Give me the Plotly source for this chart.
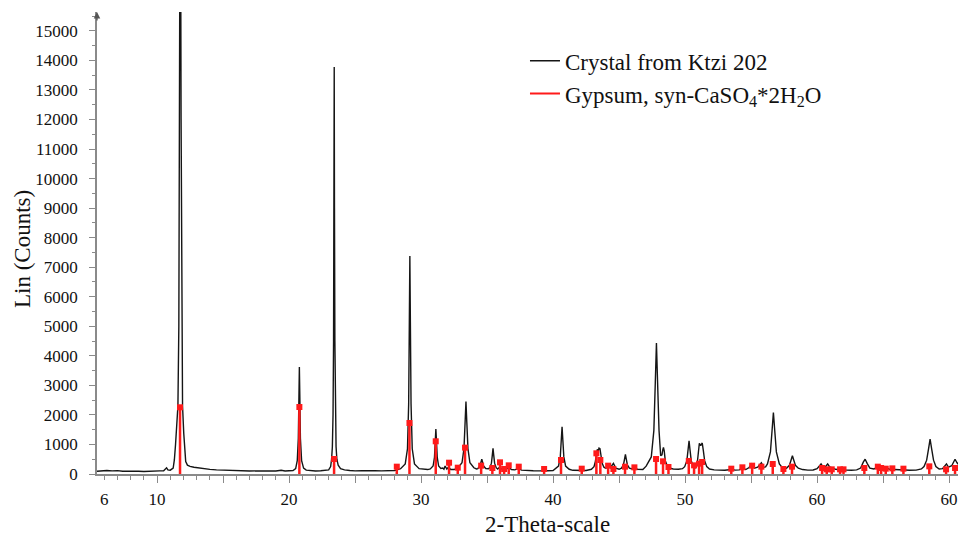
import plotly.graph_objects as go

crystal_scan = [
    (5.45, 95), (5.8, 110), (6.2, 120), (6.6, 105), (7.0, 115), (7.4, 95), (7.8, 100), (8.2, 90),
    (8.6, 95), (9.0, 85), (9.4, 100), (9.8, 90), (10.2, 105), (10.5, 110), (10.62, 150), (10.72, 210),
    (10.82, 140), (11.0, 130),
    (11.22, 200), (11.31, 475), (11.40, 1000), (11.47, 1600), (11.58, 2300), (11.65, 5000), (11.70, 12000),
    (11.76, 23000), (11.82, 12000), (11.88, 5000), (11.93, 2300), (12.02, 1390), (12.10, 800), (12.17, 420),
    (12.3, 300), (12.5, 260), (12.8, 230), (13.2, 200), (13.6, 175), (14.0, 155), (14.5, 140), (15.0, 130),
    (15.5, 120), (16.0, 115),
    (16.5, 110), (17.0, 100), (17.5, 105), (18.0, 95), (18.5, 110), (19.0, 100), (19.4, 125), (19.7, 100),
    (20.0, 110), (20.3, 115),
    (20.5, 180), (20.62, 450), (20.70, 1200), (20.74, 2500), (20.78, 3620), (20.82, 2500), (20.86, 1200),
    (20.95, 450), (21.1, 200), (21.3, 130),
    (21.6, 110), (22.0, 100), (22.4, 110), (22.7, 115), (23.0, 140),
    (23.15, 250), (23.22, 500), (23.28, 925), (23.33, 2000), (23.37, 4500), (23.40, 9000), (23.42, 13780),
    (23.44, 9000), (23.47, 4500), (23.51, 2000), (23.56, 925), (23.62, 500), (23.72, 300), (23.9, 180),
    (24.2, 140), (24.6, 120),
    (25.0, 105), (25.5, 115), (26.0, 100), (26.5, 110), (27.0, 105), (27.5, 115), (28.0, 120), (28.45, 180),
    (28.8, 340), (28.97, 855), (29.06, 2380), (29.11, 5130), (29.15, 7380), (29.19, 5130), (29.24, 2380),
    (29.33, 855), (29.5, 340), (29.85, 180),
    (30.2, 150), (30.5, 150), (30.7, 170), (30.91, 270), (31.015, 560), (31.07, 1090), (31.12, 1520),
    (31.17, 1090), (31.225, 560), (31.33, 270), (31.5, 190),
    (31.64, 200), (31.73, 160), (31.82, 270), (31.95, 170), (32.07, 230), (32.25, 150), (32.5, 150), (32.8, 215),
    (33.1, 380), (33.25, 860), (33.334, 1740), (33.40, 2450), (33.466, 1740), (33.55, 860), (33.70, 380),
    (34.0, 210), (34.2, 170),
    (34.3, 185), (34.45, 260), (34.534, 390), (34.6, 500), (34.666, 390), (34.75, 260), (34.9, 185), (35.1, 180),
    (35.21, 213), (35.33, 366), (35.397, 640), (35.45, 870), (35.503, 640), (35.57, 366), (35.69, 213), (35.8, 170),
    (35.95, 230), (36.1, 170), (36.3, 190), (36.45, 160), (36.65, 220), (36.85, 150), (37.1, 140), (37.4, 190),
    (37.6, 130), (38.0, 115), (38.5, 110), (39.0, 105), (39.3, 120), (39.6, 110), (40.0, 115),
    (40.14, 160), (40.41, 268), (40.545, 579), (40.62, 1141), (40.68, 1600), (40.74, 1141), (40.815, 579),
    (40.95, 268), (41.22, 160), (41.5, 125), (42.0, 115), (42.2, 130), (42.5, 120), (42.9, 160),
    (43.1, 250), (43.2, 420), (43.28, 700), (43.35, 830), (43.42, 780), (43.48, 880), (43.55, 860), (43.62, 640),
    (43.72, 360), (43.85, 230), (44.0, 190), (44.2, 300), (44.35, 220), (44.57, 360), (44.75, 200), (45.0, 160),
    (45.18, 200), (45.33, 308), (45.414, 502), (45.48, 660), (45.546, 502), (45.63, 308), (45.78, 200),
    (46.0, 170), (46.2, 190), (46.4, 160), (46.8, 150),
    (47.05, 266), (47.44, 578), (47.635, 1477), (47.744, 3103), (47.83, 4430), (47.916, 3103), (48.025, 1477),
    (48.15, 620), (48.25, 650), (48.31, 820), (48.36, 900), (48.42, 780), (48.5, 450), (48.65, 280),
    (48.85, 200), (49.1, 170), (49.5, 160), (49.8, 180),
    (49.97, 247), (50.135, 451), (50.227, 819), (50.30, 1120), (50.373, 819), (50.465, 451), (50.63, 247),
    (50.8, 210), (50.92, 360), (51.0, 650), (51.08, 1040), (51.18, 960), (51.30, 1050), (51.38, 800),
    (51.48, 450), (51.64, 250), (51.85, 170), (52.2, 140), (52.6, 130), (53.0, 125), (53.5, 150), (53.8, 130),
    (54.1, 140), (54.35, 200), (54.6, 150), (54.85, 220), (55.05, 340), (55.25, 200), (55.5, 230), (55.78, 380),
    (55.95, 230), (56.1, 240),
    (56.24, 343), (56.465, 748), (56.59, 1482), (56.69, 2080), (56.79, 1482), (56.915, 748), (57.14, 343),
    (57.4, 200), (57.68, 197),
    (57.905, 296), (58.03, 474), (58.13, 620), (58.23, 474), (58.355, 296), (58.58, 197), (58.9, 150),
    (59.3, 130), (59.7, 135), (60.0, 180), (60.15, 260), (60.3, 340), (60.45, 240), (60.6, 230), (60.8, 340),
    (60.95, 240), (61.2, 200), (61.4, 160), (61.8, 140), (62.2, 130), (62.6, 125), (63.0, 140), (63.3, 200),
    (63.5, 400), (63.64, 500), (63.8, 350), (64.0, 200), (64.3, 170), (64.55, 230), (64.7, 250), (64.9, 200),
    (65.2, 220), (65.5, 160), (66.0, 140), (66.5, 130), (67.0, 125), (67.5, 130), (67.9, 170),
    (68.1, 253), (68.3, 469), (68.445, 861), (68.56, 1180), (68.675, 861), (68.82, 469), (69.0, 253),
    (69.25, 170), (69.5, 180), (69.65, 260), (69.8, 340), (69.95, 230), (70.2, 280), (70.45, 500),
    (70.6, 380), (70.8, 280), (71.0, 250), (71.3, 200),
]
scan_2theta = [p[0] for p in crystal_scan]
scan_counts = [p[1] for p in crystal_scan]

# Gypsum reference lines (2-theta, counts)
gypsum_2theta = [11.74, 20.78, 23.41, 28.16, 29.12, 31.11, 32.12, 32.78, 33.33, 34.55, 35.40, 35.98,
                 36.29, 36.64, 37.40, 39.32, 40.60, 42.17, 43.28, 43.58, 44.17, 44.57, 45.45, 46.16,
                 47.80, 48.33, 48.74, 50.28, 50.68, 51.06, 51.29, 53.50, 54.34, 55.08, 55.78, 56.64,
                 57.45, 58.10, 60.38, 60.73, 61.11, 61.74, 62.00, 63.58, 64.60, 64.85, 65.20, 65.70,
                 66.54, 68.50, 69.77, 70.45, 70.88]
gypsum_counts = [2258, 2268, 508, 248, 1727, 1107, 383, 214, 892, 282, 203, 395,
                 169, 293, 248, 169, 474, 180, 700, 474, 282, 169, 248, 225,
                 508, 429, 237, 440, 293, 350, 406, 180, 226, 282, 248, 339,
                 169, 248, 203, 158, 158, 158, 158, 203, 248, 203, 180, 191,
                 180, 259, 158, 203, 203]

y_tick_values = list(range(0, 15001, 1000))
y_tick_texts = [str(v) for v in y_tick_values]
x_major_ticks = list(range(10, 71, 5))
x_label_values = [6, 10, 20, 30, 40, 50, 60, 70]
x_label_texts = ["6", "10", "20", "30", "40", "50", "60", "60"]

series_names = ["Crystal from Ktzi 202", "Gypsum, syn-CaSO<sub>4</sub>*2H<sub>2</sub>O"]
x_title = "2-Theta-scale"
y_title = "Lin (Counts)"

X_RANGE = [5.45, 71.28]
Y_RANGE = [0, 15640]
FONT = "Liberation Serif"
AXIS_GREY = "#8a8a8a"

stick_x, stick_y = [], []
for pos, cnt in zip(gypsum_2theta, gypsum_counts):
    stick_x += [pos, pos, None]
    stick_y += [0, cnt, None]

fig = go.Figure()
fig.add_trace(go.Scatter(x=scan_2theta, y=scan_counts, mode="lines",
                         line=dict(color="#151515", width=1.4),
                         name=series_names[0], showlegend=True))
fig.add_trace(go.Scatter(x=stick_x, y=stick_y, mode="lines",
                         line=dict(color="#ff1a1a", width=2.5),
                         showlegend=False, hoverinfo="skip"))
fig.add_trace(go.Scatter(x=gypsum_2theta, y=gypsum_counts, mode="markers",
                         marker=dict(symbol="square", size=6, color="#ff1a1a"),
                         showlegend=False))
fig.add_trace(go.Scatter(x=[None], y=[None], mode="lines",
                         line=dict(color="#ff1a1a", width=2),
                         name=series_names[1], showlegend=True))
fig.add_trace(go.Scatter(x=[None], y=[None], xaxis="x2", showlegend=False, hoverinfo="skip"))

# the page body adds an 8px offset, so the figure is 8px smaller on each side
fig.update_layout(
    width=958, height=529,
    margin=dict(l=89, r=0, t=4, b=63, autoexpand=False),
    paper_bgcolor="white", plot_bgcolor="white",
    font=dict(family=FONT, size=17, color="#111"),
    legend=dict(x=0.4925, y=0.941, xanchor="left", yanchor="top",
                font=dict(family=FONT, size=23, color="#111"),
                bgcolor="rgba(0,0,0,0)", tracegroupgap=0),
    xaxis=dict(range=X_RANGE, tickmode="array", tickvals=x_major_ticks,
               showticklabels=False, ticks="outside", ticklen=7, tickwidth=1,
               tickcolor=AXIS_GREY, showline=True, linecolor=AXIS_GREY, linewidth=1.5,
               showgrid=False, zeroline=False, automargin=False,
               minor=dict(tick0=0, dtick=1, ticks="outside", ticklen=4,
                          tickcolor=AXIS_GREY, showgrid=False)),
    xaxis2=dict(overlaying="x", anchor="y", side="bottom", range=X_RANGE,
                tickmode="array", tickvals=x_label_values, ticktext=x_label_texts,
                ticks="", showline=False, showgrid=False, zeroline=False,
                ticklabelstandoff=13, automargin=False,
                tickfont=dict(family=FONT, size=17, color="#111")),
    yaxis=dict(range=Y_RANGE, tickmode="array", tickvals=y_tick_values, ticktext=y_tick_texts,
               ticks="outside", ticklen=6, tickwidth=1, tickcolor=AXIS_GREY,
               showline=True, linecolor=AXIS_GREY, linewidth=1.5,
               showgrid=False, zeroline=False, ticklabelstandoff=8, automargin=False,
               tickfont=dict(family=FONT, size=17, color="#111"),
               minor=dict(tick0=0, dtick=500, ticks="outside", ticklen=3,
                          tickcolor=AXIS_GREY, showgrid=False)),
    annotations=[
        dict(xref="paper", yref="paper", x=0, y=1, ax=0, ay=10,
             showarrow=True, arrowhead=2, arrowsize=1, arrowwidth=1.3,
             arrowcolor="#555", text=""),
        dict(xref="paper", yref="paper", x=0.5184, y=-0.110, xanchor="center", yanchor="middle",
             text=x_title, showarrow=False, font=dict(family=FONT, size=23, color="#111")),
        dict(xref="paper", yref="paper", x=-0.0863, y=0.487, xanchor="center", yanchor="middle",
             text=y_title, textangle=-90, showarrow=False,
             font=dict(family=FONT, size=23, color="#111")),
    ],
)

fig.write_html("out.html")
